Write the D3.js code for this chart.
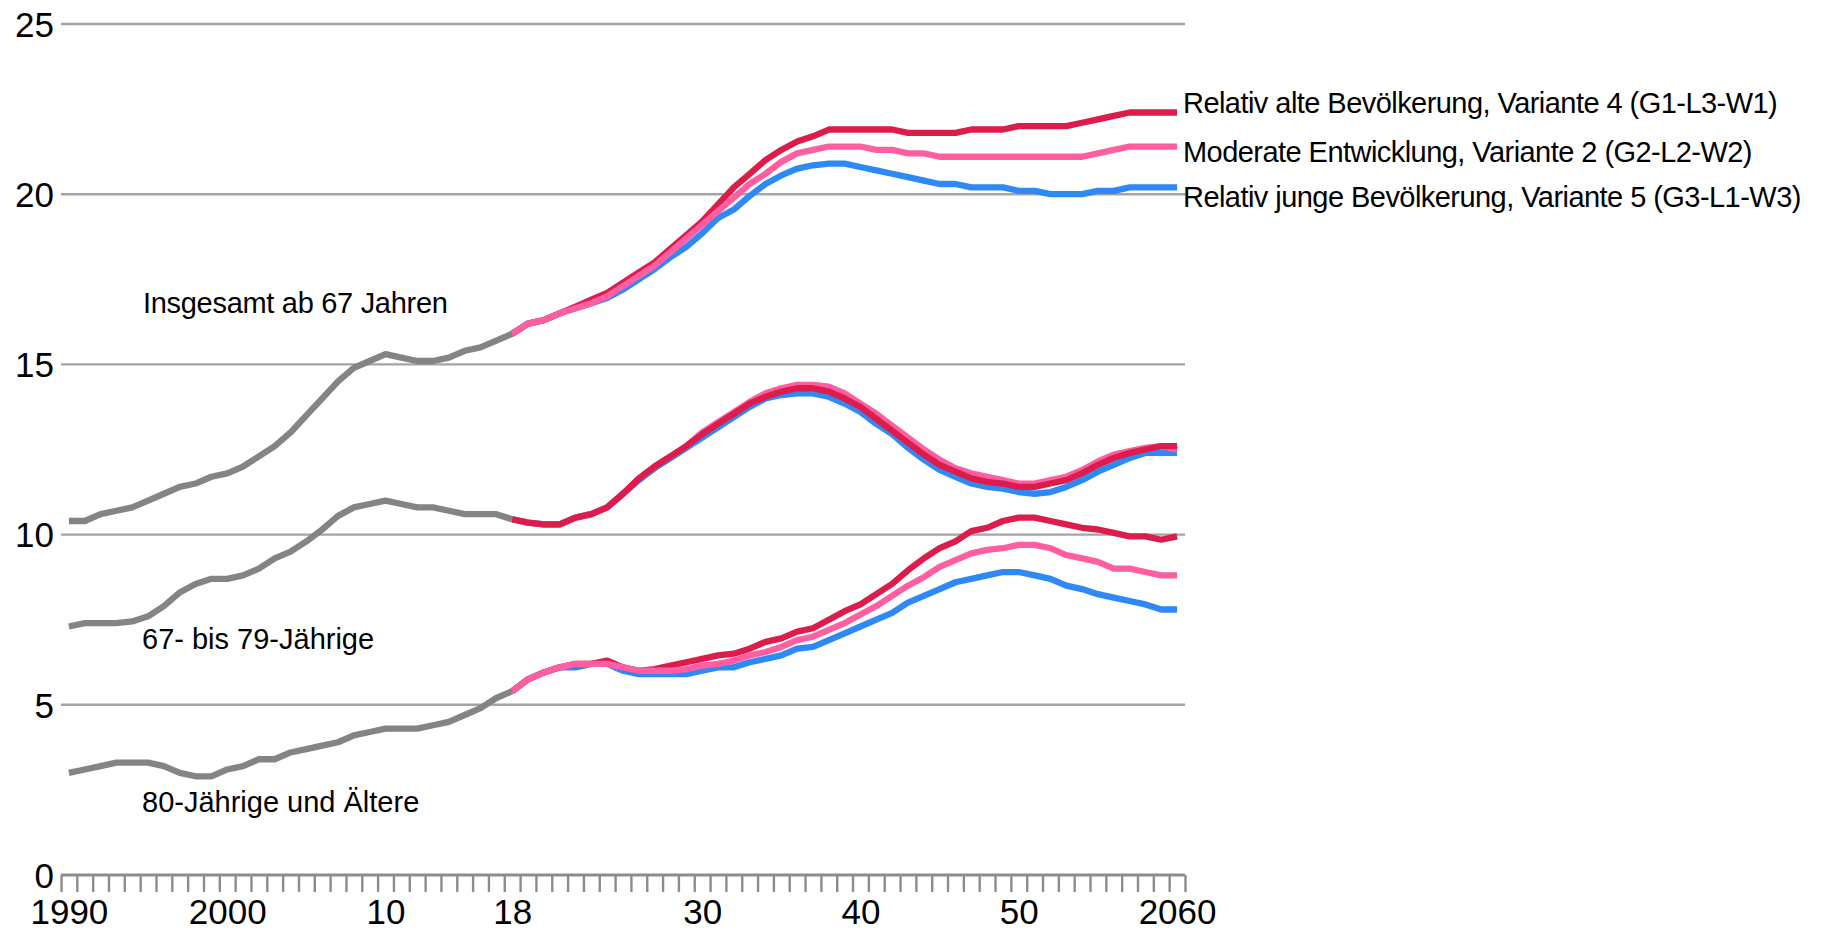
<!DOCTYPE html>
<html>
<head>
<meta charset="utf-8">
<script src="https://cdn.jsdelivr.net/npm/d3@7"></script>
<style>
  html, body { margin: 0; padding: 0; background: #ffffff; }
  svg { display: block; font-family: "Liberation Sans", Arial, sans-serif; }
</style>
</head>
<body>
<svg id="chart" width="1833" height="931"></svg>
<script>
// ---------- DATA ----------
const histYears = d3.range(1990, 2019);   // 1990 … 2018
const projYears = d3.range(2018, 2061);   // 2018 … 2060

// Historical values (Mio.), 1990–2018
const histTotal = [10.4,10.4,10.6,10.7,10.8,11.0,11.2,11.4,11.5,11.7,11.8,12.0,12.3,12.6,13.0,13.5,14.0,14.5,14.9,15.1,15.3,15.2,15.1,15.1,15.2,15.4,15.5,15.7,15.9];
const hist6779  = [7.3,7.4,7.4,7.4,7.45,7.6,7.9,8.3,8.55,8.7,8.7,8.8,9.0,9.3,9.5,9.8,10.15,10.55,10.8,10.9,11.0,10.9,10.8,10.8,10.7,10.6,10.6,10.6,10.45];
const hist80    = [3.0,3.1,3.2,3.3,3.3,3.3,3.2,3.0,2.9,2.9,3.1,3.2,3.4,3.4,3.6,3.7,3.8,3.9,4.1,4.2,4.3,4.3,4.3,4.4,4.5,4.7,4.9,5.2,5.4];

// Projections 2018–2060: Variante 4 (alt), Variante 2 (moderat), Variante 5 (jung)
const totalV4 = [15.9,16.2,16.3,16.5,16.7,16.9,17.1,17.4,17.7,18.0,18.4,18.8,19.2,19.7,20.2,20.6,21.0,21.3,21.55,21.7,21.9,21.9,21.9,21.9,21.9,21.8,21.8,21.8,21.8,21.9,21.9,21.9,22.0,22.0,22.0,22.0,22.1,22.2,22.3,22.4,22.4,22.4,22.4];
const totalV2 = [15.9,16.2,16.3,16.5,16.65,16.8,17.0,17.3,17.6,17.9,18.3,18.7,19.1,19.5,19.9,20.3,20.6,20.95,21.2,21.3,21.4,21.4,21.4,21.3,21.3,21.2,21.2,21.1,21.1,21.1,21.1,21.1,21.1,21.1,21.1,21.1,21.1,21.2,21.3,21.4,21.4,21.4,21.4];
const totalV5 = [15.9,16.2,16.3,16.5,16.65,16.8,16.95,17.2,17.5,17.8,18.15,18.45,18.85,19.3,19.55,19.95,20.3,20.55,20.75,20.85,20.9,20.9,20.8,20.7,20.6,20.5,20.4,20.3,20.3,20.2,20.2,20.2,20.1,20.1,20.0,20.0,20.0,20.1,20.1,20.2,20.2,20.2,20.2];

const a6779V4 = [10.45,10.35,10.3,10.3,10.5,10.6,10.8,11.2,11.65,12.0,12.3,12.6,12.95,13.25,13.55,13.85,14.05,14.2,14.3,14.3,14.2,14.0,13.75,13.4,13.05,12.7,12.35,12.05,11.85,11.65,11.55,11.5,11.4,11.4,11.5,11.6,11.8,12.05,12.25,12.4,12.5,12.6,12.6];
const a6779V2 = [10.45,10.35,10.3,10.3,10.5,10.6,10.8,11.2,11.65,12.0,12.3,12.6,13.0,13.3,13.6,13.9,14.15,14.3,14.4,14.4,14.35,14.15,13.85,13.55,13.2,12.85,12.5,12.2,11.95,11.8,11.7,11.6,11.5,11.5,11.6,11.7,11.9,12.15,12.35,12.45,12.55,12.6,12.5];
const a6779V5 = [10.45,10.35,10.3,10.3,10.5,10.6,10.8,11.2,11.6,11.95,12.25,12.55,12.85,13.15,13.45,13.75,14.0,14.1,14.15,14.15,14.05,13.85,13.6,13.25,12.95,12.55,12.2,11.9,11.7,11.5,11.4,11.35,11.25,11.2,11.25,11.4,11.6,11.85,12.05,12.25,12.4,12.4,12.4];

const a80V4 = [5.4,5.75,5.95,6.1,6.2,6.2,6.3,6.1,6.0,6.05,6.15,6.25,6.35,6.45,6.5,6.65,6.85,6.95,7.15,7.25,7.5,7.75,7.95,8.25,8.55,8.95,9.3,9.6,9.8,10.1,10.2,10.4,10.5,10.5,10.4,10.3,10.2,10.15,10.05,9.95,9.95,9.85,9.95];
const a80V2 = [5.4,5.75,5.95,6.1,6.2,6.2,6.2,6.1,6.0,6.0,6.0,6.05,6.15,6.2,6.3,6.45,6.55,6.7,6.9,7.0,7.2,7.4,7.65,7.9,8.2,8.5,8.75,9.05,9.25,9.45,9.55,9.6,9.7,9.7,9.6,9.4,9.3,9.2,9.0,9.0,8.9,8.8,8.8];
const a80V5 = [5.4,5.75,5.95,6.1,6.1,6.2,6.2,6.0,5.9,5.9,5.9,5.9,6.0,6.1,6.1,6.25,6.35,6.45,6.65,6.7,6.9,7.1,7.3,7.5,7.7,8.0,8.2,8.4,8.6,8.7,8.8,8.9,8.9,8.8,8.7,8.5,8.4,8.25,8.15,8.05,7.95,7.8,7.8];

// Tick labels
const yTicks = [0, 5, 10, 15, 20, 25];
const xLabelYears = [1990, 2000, 2010, 2018, 2030, 2040, 2050, 2060];
const xLabelText  = ["1990", "2000", "10", "18", "30", "40", "50", "2060"];

// Group / legend labels
const groupLabels = ["Insgesamt ab 67 Jahren", "67-  bis 79-Jährige", "80-Jährige und Ältere"];
const legendLabels = [
  "Relativ alte Bevölkerung, Variante 4 (G1-L3-W1)",
  "Moderate Entwicklung, Variante 2 (G2-L2-W2)",
  "Relativ junge Bevölkerung, Variante 5 (G3-L1-W3)"
];

// ---------- STYLE ----------
const COL = { hist: "#848484", v4: "#DC1C4B", v2: "#FF5FA2", v5: "#2E89F4", grid: "#a4a4a4", axis: "#8c8c8c" };
const LW = 6.3;

// ---------- SCALES ----------
const svg = d3.select("#chart");
const left = 61, right = 1185;
const x = d3.scaleLinear().domain([1989.5, 2060.5]).range([left, right]);
const y = d3.scaleLinear().domain([0, 25]).range([875, 24]);

// Gridlines
svg.append("g").selectAll("line").data(yTicks.filter(d => d > 0)).join("line")
  .attr("x1", left).attr("x2", right)
  .attr("y1", d => y(d)).attr("y2", d => y(d))
  .attr("stroke", COL.grid).attr("stroke-width", 2.4);

// Y axis labels
const yAxis = svg.append("g").attr("transform", `translate(${left},0)`)
  .call(d3.axisLeft(y).tickValues(yTicks).tickSize(0).tickPadding(7).tickFormat(d3.format("d")));
yAxis.select(".domain").remove();
yAxis.selectAll("text").attr("font-size", 35).attr("fill", "#000").attr("dy", "0.35em")
  .attr("font-family", '"Liberation Sans", Arial, sans-serif');

// X axis: tick marks at category boundaries
const xTickAxis = svg.append("g").attr("transform", `translate(0,${y(0)})`)
  .call(d3.axisBottom(x).tickValues(d3.range(1989.5, 2061, 1)).tickSize(17).tickFormat(""));
xTickAxis.select(".domain").remove();
xTickAxis.selectAll("line").attr("stroke", COL.axis).attr("stroke-width", 2.4);

// baseline
svg.append("line").attr("x1", left).attr("x2", right).attr("y1", y(0)).attr("y2", y(0))
  .attr("stroke", COL.axis).attr("stroke-width", 3.2);

// X labels
const xLabAxis = svg.append("g").attr("transform", `translate(0,${y(0)})`)
  .call(d3.axisBottom(x).tickValues(xLabelYears).tickSize(0)
    .tickFormat((d, i) => xLabelText[i]));
xLabAxis.select(".domain").remove();
xLabAxis.selectAll("text").attr("font-size", 35).attr("fill", "#000").attr("y", 24)
  .attr("font-family", '"Liberation Sans", Arial, sans-serif');

// ---------- LINES ----------
const line = d3.line().x(d => x(d[0])).y(d => y(d[1]));
const pairs = (yrs, vals) => yrs.map((yr, i) => [yr, vals[i]]);
const plot = svg.append("g").attr("fill", "none").attr("stroke-width", LW)
  .attr("stroke-linejoin", "round").attr("stroke-linecap", "butt");

function draw(yrs, vals, col) {
  plot.append("path").datum(pairs(yrs, vals)).attr("d", line).attr("stroke", col);
}

// history
draw(histYears, histTotal, COL.hist);
draw(histYears, hist6779, COL.hist);
draw(histYears, hist80, COL.hist);

// total: blue, red, pink (pink on top)
draw(projYears, totalV5, COL.v5);
draw(projYears, totalV4, COL.v4);
draw(projYears, totalV2, COL.v2);
// 67-79: blue, pink, red (red on top)
draw(projYears, a6779V5, COL.v5);
draw(projYears, a6779V2, COL.v2);
draw(projYears, a6779V4, COL.v4);
// 80+: blue, red, pink (pink on top)
draw(projYears, a80V5, COL.v5);
draw(projYears, a80V4, COL.v4);
draw(projYears, a80V2, COL.v2);

// ---------- TEXT ----------
const txt = svg.append("g").attr("font-size", 29).attr("fill", "#000").style("white-space", "pre");
const groupPos = [[143, 313], [142, 649], [142, 812]];
const groupSpacing = ["-0.3px", "0px", "0px"];
txt.selectAll("text.grp").data(groupLabels).join("text").attr("class", "grp")
  .attr("x", (d, i) => groupPos[i][0]).attr("y", (d, i) => groupPos[i][1])
  .attr("letter-spacing", (d, i) => groupSpacing[i]).text(d => d);

const legendBase = [113, 162, 207];
txt.selectAll("text.leg").data(legendLabels).join("text").attr("class", "leg")
  .attr("x", 1183).attr("y", (d, i) => legendBase[i]).attr("letter-spacing", "-0.55px").text(d => d);
</script>
</body>
</html>
